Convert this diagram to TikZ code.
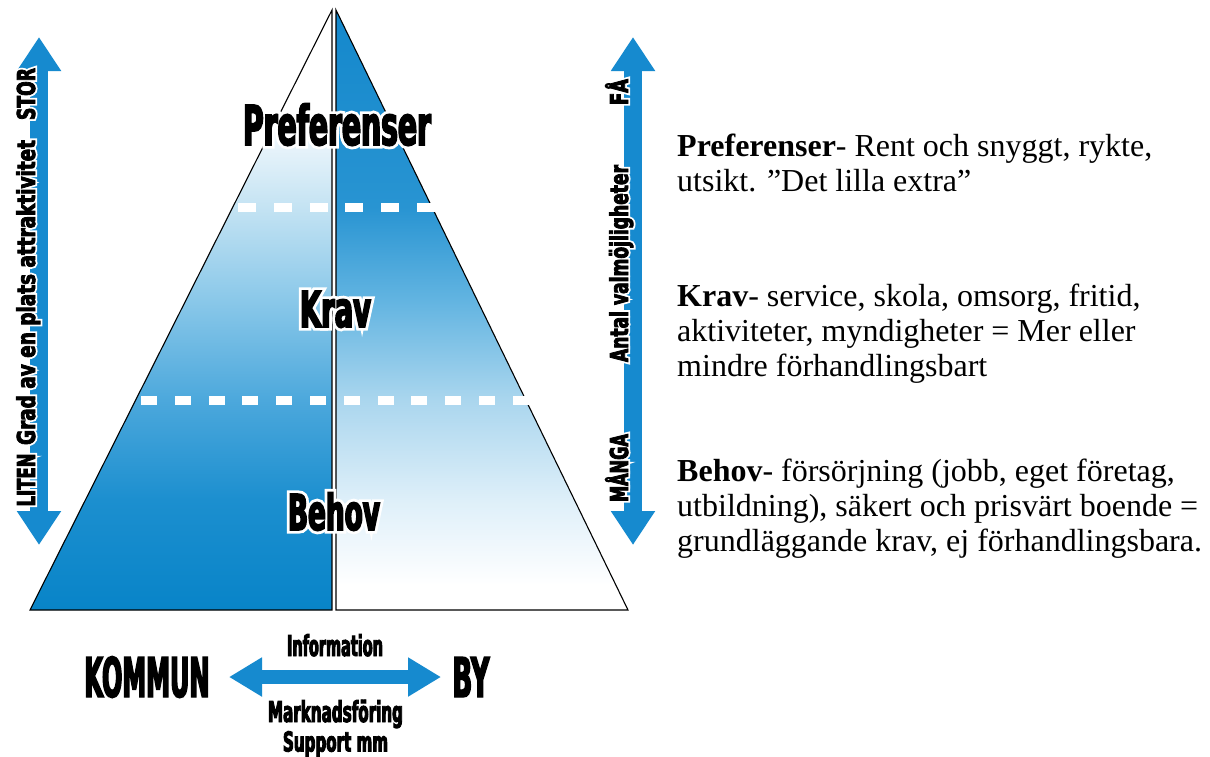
\documentclass[tikz,border=0pt]{standalone}
\usepackage{fontspec}
\setmainfont{Liberation Serif}
\newfontfamily\condfont{DejaVu Sans}
\usetikzlibrary{arrows.meta}
\definecolor{ablue}{RGB}{22,138,207}
\definecolor{Lc0}{RGB}{8,132,200}
\definecolor{Lc1}{RGB}{28,143,207}
\definecolor{Lc2}{RGB}{76,168,220}
\definecolor{Lc3}{RGB}{138,200,233}
\definecolor{Lc4}{RGB}{196,227,243}
\definecolor{Lc5}{RGB}{235,245,251}
\definecolor{Rc0}{RGB}{20,136,204}
\definecolor{Rc1}{RGB}{40,148,210}
\definecolor{Rc2}{RGB}{98,180,225}
\definecolor{Rc3}{RGB}{170,214,238}
\definecolor{Rc4}{RGB}{222,239,249}
\pgfdeclareverticalshading{leftshade}{100bp}{color(0bp)=(Lc0); color(25bp)=(Lc0); color(34.17bp)=(Lc1); color(42.5bp)=(Lc2); color(50.83bp)=(Lc3); color(58.58bp)=(Lc4); color(64.17bp)=(Lc5); color(66.67bp)=(white); color(100bp)=(white)}
\pgfdeclareverticalshading{rightshade}{100bp}{color(0bp)=(white); color(27.08bp)=(white); color(34.17bp)=(Rc4); color(42.5bp)=(Rc3); color(50.83bp)=(Rc2); color(58.58bp)=(Rc1); color(75bp)=(Rc0); color(100bp)=(Rc0)}
% condensed text: width #2, cap height #3, stroke (emboldening) width #4, all in pt
\newlength\natw
\newcommand\ctext[5][black]{\begingroup
  \condfont\bfseries
  \edef\csz{\fpeval{round(#3/0.729,3)}}%
  \fontsize{\csz}{\csz}\selectfont
  \settowidth\natw{#5}%
  \edef\cst{\fpeval{round(#2pt/\natw,4)}}%
  \edef\cbd{\fpeval{round((#4)/\csz*100,3)}}%
  \edef\ctmp{\noexpand\addfontfeatures{FakeStretch=\cst,FakeBold=\cbd}}\ctmp
  \textcolor{#1}{#5}\endgroup}
% text with white halo of radius #1
\newcommand\halo[5]{\rlap{\ctext[white]{#2}{#3}{2*#1+#4}{#5}}\ctext{#2}{#3}{#4}{#5}}
\tikzset{
  lab/.style={inner sep=0pt, anchor=base},
  vlab/.style={inner sep=0pt, anchor=base, rotate=90},
  blockarrow/.style={line width=18pt, draw=ablue, {Triangle[length=34pt,width=42pt]}-{Triangle[length=34pt,width=42pt]}},
  harrow/.style={line width=14pt, draw=ablue, {Triangle[length=33pt,width=37pt]}-{Triangle[length=33pt,width=37pt]}},
  outline/.style={draw=black, line width=1.1pt, line join=miter},
  whitedash/.style={draw=white, line width=9.5pt},
  rtext/.style={inner sep=0pt, anchor=base west, font=\fontsize{32}{36}\selectfont}
}
\begin{document}
\begin{tikzpicture}[x=1pt,y=-1pt]
\useasboundingbox[fill=white] (0,0) rectangle (1210,756);
% pyramid halves
\shade[shading=leftshade] (30,610) -- (332,10) -- (332,610) -- cycle;
\shade[shading=rightshade] (336,10) -- (628,610) -- (336,610) -- cycle;
\draw[outline] (30,610) -- (332,10) -- (332,610) -- cycle;
\draw[outline] (336,10) -- (628,610) -- (336,610) -- cycle;
% dashed separators
\draw[whitedash, dash pattern=on 18pt off 17.8pt] (238,207.5) -- (435,207.5);
\draw[whitedash, dash pattern=on 16pt off 17.8pt] (141,400.5) -- (529,400.5);
% pyramid labels
\node[lab] (pref) at (337,145) {\halo{2.8}{188}{40}{1.6}{Preferenser}};
\node[lab] (krav) at (335.5,327) {\halo{2.8}{71}{36}{1.6}{Krav}};
\node[lab] (behov) at (334,530) {\halo{2.8}{92}{36}{1.6}{Behov}};
% left arrow
\coordinate (lbot) at (39,545);
\coordinate (ltop) at (39,37);
\draw[blockarrow] (lbot) -- (ltop);
\node[vlab] (stor) at (35,94) {\halo{1.8}{52}{18}{0.8}{STOR}};
\node[vlab] (grad) at (35,292.5) {\halo{1.8}{305}{18}{0.8}{Grad av en plats attraktivitet}};
\node[vlab] (liten) at (35,480) {\halo{1.8}{53}{18}{0.8}{LITEN}};
% right arrow
\coordinate (rbot) at (633,545);
\coordinate (rtop) at (633,37);
\draw[blockarrow] (rbot) -- (rtop);
\node[vlab] (fa) at (628,92) {\halo{1.8}{26}{18}{0.8}{FÅ}};
\node[vlab] (antal) at (628,263.5) {\halo{1.8}{197}{18}{0.8}{Antal valmöjligheter}};
\node[vlab] (manga) at (628,468) {\halo{1.8}{68}{18}{0.8}{MÅNGA}};
% bottom
\node[lab] (kommun) at (147,697) {\ctext{125}{40}{1.4}{KOMMUN}};
\node[lab] (by) at (471,697) {\ctext{37}{40}{1.4}{BY}};
\coordinate (hl) at (229,677);
\coordinate (hr) at (441,677);
\draw[harrow] (hl) -- (hr);
\node[lab] (info) at (335,656) {\ctext{96}{21}{0.9}{Information}};
\node[lab] (mark) at (335.5,722) {\ctext{135}{21}{0.9}{Marknadsföring}};
\node[lab] (supp) at (335.5,751.5) {\ctext{105}{20}{0.9}{Support mm}};
% right text
\node[rtext] (p1) at (677,156) {\textbf{Preferenser}- Rent och snyggt, rykte,};
\node[rtext] (p2) at (677,191) {utsikt. ”Det lilla extra”};
\node[rtext] (k1) at (677,306) {\textbf{Krav}- service, skola, omsorg, fritid,};
\node[rtext] (k2) at (677,341) {aktiviteter, myndigheter = Mer eller};
\node[rtext] (k3) at (677,376) {mindre förhandlingsbart};
\node[rtext] (b1) at (677,481) {\textbf{Behov}- försörjning (jobb, eget företag,};
\node[rtext] (b2) at (677,516) {utbildning), säkert och prisvärt boende =};
\node[rtext] (b3) at (677,551) {grundläggande krav, ej förhandlingsbara.};
\end{tikzpicture}
\end{document}
